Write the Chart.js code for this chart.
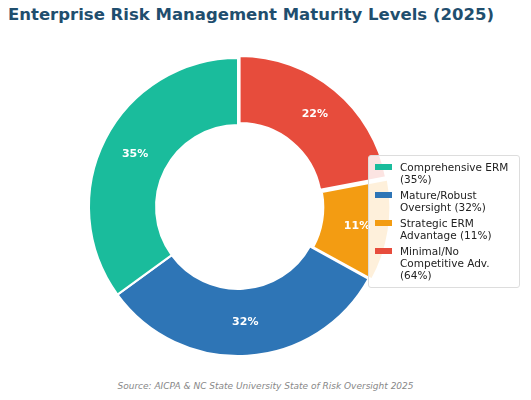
<!DOCTYPE html>
<html>
<head>
<meta charset="utf-8">
<script src="https://cdn.jsdelivr.net/npm/chart.js@4.4.0/dist/chart.umd.min.js"></script>
<style>
  body { margin:0; width:531px; height:400px; background:#fff; font-family:"DejaVu Sans", sans-serif; position:relative; overflow:hidden; }
  #title { position:absolute; left:8px; top:5px; font-size:16.5px; font-weight:bold; color:#1f4e6e; }
  #wrap { position:absolute; left:83px; top:52px; width:310px; height:310px; }
  #legend { position:absolute; left:368px; top:155px; width:152px; background:rgba(255,255,255,0.85); border:1px solid #ddd; border-radius:3px; padding:3px 0 2px 4px; font-size:10.5px; color:#222; box-sizing:border-box; }
  .item { display:flex; align-items:flex-start; margin:2px 0 4px; line-height:12px; }
  .sw { width:17px; height:6px; margin:3px 8px 0 2px; flex:none; }
  #source { position:absolute; left:0; width:531px; top:381px; text-align:center; font-size:9px; font-style:italic; color:#888; }
</style>
</head>
<body>
<div id="title">Enterprise Risk Management Maturity Levels (2025)</div>
<div id="wrap"><canvas id="c"></canvas></div>
<div id="legend"></div>
<div id="source">Source: AICPA &amp; NC State University State of Risk Oversight 2025</div>
<script>
// Legend order (as in the reference)
const labels = ['Comprehensive ERM (35%)', 'Mature/Robust Oversight (32%)', 'Strategic ERM Advantage (11%)', 'Minimal/No Competitive Adv. (64%)'];
const legendLines = [['Comprehensive ERM', '(35%)'], ['Mature/Robust', 'Oversight (32%)'], ['Strategic ERM', 'Advantage (11%)'], ['Minimal/No', 'Competitive Adv. (64%)']];
const values = [35, 32, 11, 22];
const colors = ['#1abc9c', '#2e75b6', '#f39c12', '#e74c3c'];
const offsets = [0, 0, 10, 10];

// reference runs counter-clockwise from the top; Chart.js runs clockwise, so reverse
const order = [3, 2, 1, 0];

const legendEl = document.getElementById('legend');
labels.forEach((l, i) => {
  const d = document.createElement('div');
  d.className = 'item';
  d.innerHTML = `<span class="sw" style="background:${colors[i]}"></span><span>${legendLines[i].join('<br>')}</span>`;
  legendEl.appendChild(d);
});

const pctLabels = {
  id: 'pctLabels',
  afterDatasetsDraw(chart) {
    const ctx = chart.ctx;
    const meta = chart.getDatasetMeta(0);
    ctx.save();
    ctx.fillStyle = '#fff';
    ctx.font = 'bold 11px "DejaVu Sans"';
    ctx.textAlign = 'center';
    ctx.textBaseline = 'middle';
    meta.data.forEach((arc, i) => {
      const p = arc.tooltipPosition();
      ctx.fillText(chart.data.datasets[0].data[i] + '%', p.x, p.y);
    });
    ctx.restore();
  }
};

new Chart(document.getElementById('c'), {
  type: 'doughnut',
  data: {
    labels: order.map(i => labels[i]),
    datasets: [{
      data: order.map(i => values[i]),
      backgroundColor: order.map(i => colors[i]),
      offset: order.map(i => offsets[i]),
      borderColor: '#fff',
      borderWidth: 2
    }]
  },
  options: {
    responsive: true,
    maintainAspectRatio: false,
    animation: false,
    cutout: '55%',
    layout: { padding: 0 },
    plugins: { legend: { display: false }, tooltip: { enabled: false } }
  },
  plugins: [pctLabels]
});
</script>
</body>
</html>
